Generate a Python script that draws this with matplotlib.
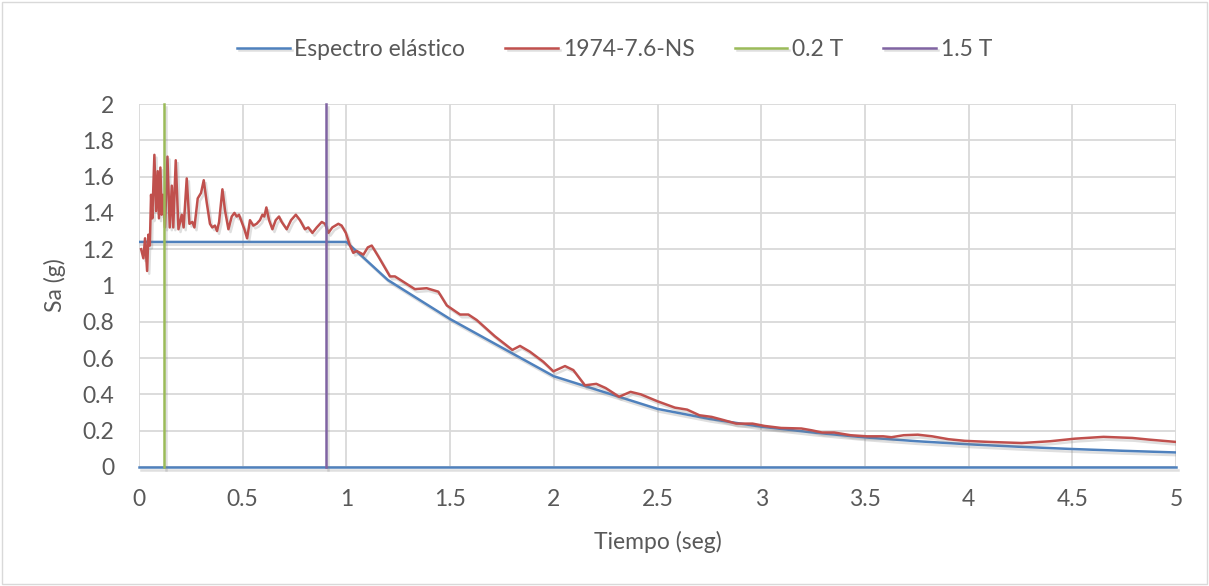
import matplotlib
matplotlib.use("Agg")
import matplotlib.pyplot as plt
import matplotlib.patheffects as pe
from matplotlib.patches import Rectangle
from matplotlib.ticker import FuncFormatter

plt.rcParams['font.family'] = ['Lato', 'DejaVu Sans']

# elastic design spectrum (blue)
espectro_t = [0.0, 1.0, 1.2, 1.5, 2.0, 2.5, 2.75, 3.0, 3.25, 3.5, 3.75, 4.0, 4.25, 4.5, 4.75, 5.0]
espectro_sa = [1.24, 1.24, 1.03, 0.815, 0.5, 0.32, 0.265, 0.222, 0.19, 0.163, 0.142, 0.125, 0.111, 0.099, 0.089, 0.08]
base_t = [0.0, 5.0]
base_sa = [0.0, 0.0]

# record 1974-7.6-NS (red)
registro_t = [0.01, 0.021, 0.029, 0.039, 0.045, 0.052, 0.058, 0.064, 0.074, 0.082,
              0.09, 0.096, 0.103, 0.109, 0.116, 0.125, 0.137, 0.148, 0.158, 0.165,
              0.177, 0.19, 0.206, 0.215, 0.23, 0.243, 0.257, 0.267, 0.283, 0.299,
              0.312, 0.326, 0.342, 0.353, 0.366, 0.376, 0.386, 0.402, 0.415, 0.431,
              0.447, 0.46, 0.471, 0.482, 0.495, 0.508, 0.521, 0.535, 0.551, 0.567,
              0.583, 0.595, 0.604, 0.614, 0.627, 0.643, 0.659, 0.675, 0.688, 0.712,
              0.733, 0.756, 0.776, 0.80, 0.816, 0.836, 0.857, 0.881, 0.897, 0.913,
              0.932, 0.961, 0.977, 0.997, 1.017, 1.033, 1.05, 1.066, 1.082, 1.103,
              1.122, 1.154, 1.21, 1.234, 1.33, 1.387, 1.443, 1.484, 1.548, 1.588,
              1.628, 1.692, 1.716, 1.80, 1.837, 1.885, 1.949, 1.998, 2.054, 2.094,
              2.15, 2.205, 2.25, 2.315, 2.37, 2.42, 2.50, 2.584, 2.643, 2.702,
              2.761, 2.82, 2.879, 2.958, 3.017, 3.096, 3.194, 3.244, 3.293, 3.352,
              3.431, 3.509, 3.588, 3.628, 3.687, 3.755, 3.824, 3.903, 3.982, 4.1,
              4.257, 4.395, 4.513, 4.651, 4.789, 4.868, 5.0]
registro_sa = [1.20, 1.15, 1.26, 1.08, 1.28, 1.22, 1.50, 1.37, 1.72, 1.41,
               1.63, 1.37, 1.65, 1.39, 1.50, 1.32, 1.71, 1.32, 1.55, 1.32,
               1.69, 1.31, 1.39, 1.32, 1.59, 1.34, 1.35, 1.32, 1.48, 1.51,
               1.58, 1.46, 1.34, 1.32, 1.33, 1.30, 1.35, 1.53, 1.41, 1.31,
               1.38, 1.40, 1.38, 1.39, 1.35, 1.31, 1.26, 1.36, 1.33, 1.34,
               1.36, 1.39, 1.38, 1.43, 1.36, 1.31, 1.36, 1.38, 1.35, 1.31,
               1.36, 1.39, 1.36, 1.31, 1.32, 1.29, 1.32, 1.35, 1.34, 1.29,
               1.32, 1.34, 1.33, 1.29, 1.22, 1.18, 1.19, 1.18, 1.17, 1.21,
               1.22, 1.16, 1.05, 1.05, 0.98, 0.985, 0.966, 0.89, 0.84, 0.84,
               0.81, 0.745, 0.72, 0.645, 0.667, 0.635, 0.58, 0.527, 0.556, 0.534,
               0.45, 0.458, 0.435, 0.387, 0.414, 0.40, 0.362, 0.327, 0.316, 0.285,
               0.276, 0.258, 0.239, 0.239, 0.226, 0.215, 0.212, 0.202, 0.19, 0.19,
               0.175, 0.169, 0.169, 0.164, 0.175, 0.178, 0.169, 0.153, 0.144, 0.138,
               0.132, 0.142, 0.156, 0.166, 0.16, 0.151, 0.138]

# period markers
t02_x = [0.12, 0.12]
t02_y = [0.0, 2.0]
t15_x = [0.9, 0.9]
t15_y = [0.0, 2.0]

xticks = [0, 0.5, 1, 1.5, 2, 2.5, 3, 3.5, 4, 4.5, 5]
yticks = [0, 0.2, 0.4, 0.6, 0.8, 1, 1.2, 1.4, 1.6, 1.8, 2]

azul = '#4f81bd'
rojo = '#c0504d'
verde = '#9bbb59'
morado = '#8064a2'
gris = '#595959'
fs = 16.5

fig = plt.figure(figsize=(12.09, 5.86), dpi=100)
ax = fig.add_axes([0.115, 0.2031, 0.8577, 0.6194])

sombra = [pe.SimpleLineShadow(offset=(1.5, -2), shadow_color='gray', alpha=0.25), pe.Normal()]

ax.plot(espectro_t, espectro_sa, color=azul, lw=1.8, label='Espectro elástico', path_effects=sombra, zorder=3)
ax.plot(base_t, base_sa, color=azul, lw=1.8, path_effects=sombra, zorder=3, clip_on=False)
ax.plot(registro_t, registro_sa, color=rojo, lw=1.8, label='1974-7.6-NS', path_effects=sombra, zorder=4)
ax.plot(t02_x, t02_y, color=verde, lw=1.8, label='0.2 T', path_effects=sombra, zorder=5, clip_on=False)
ax.plot(t15_x, t15_y, color=morado, lw=1.8, label='1.5 T', path_effects=sombra, zorder=5, clip_on=False)

ax.set_xlim(0, 5)
ax.set_ylim(0, 2)
ax.set_xticks(xticks)
ax.set_yticks(yticks)
fmt = FuncFormatter(lambda v, p: ('%g' % round(v, 2)))
ax.xaxis.set_major_formatter(fmt)
ax.yaxis.set_major_formatter(fmt)
ax.grid(True, color='#d9d9d9', lw=1.3)
ax.set_axisbelow(True)
for s in ax.spines.values():
    s.set_visible(False)
ax.tick_params(length=0, labelsize=fs, colors=gris)
ax.tick_params(axis='x', pad=16)
ax.tick_params(axis='y', pad=18)

ax.set_xlabel('Tiempo (seg)', fontsize=fs, color=gris, va='center')
ax.xaxis.set_label_coords(0.5, -0.207)
ax.set_ylabel('Sa (g)', fontsize=fs, color=gris, va='center')
ax.yaxis.set_label_coords(-0.081, 0.5)

ax.legend(loc='center', bbox_to_anchor=(0.4585, 1.151), ncol=4, frameon=False,
          fontsize=fs, labelcolor=gris, handlelength=2.3, handletextpad=0.2,
          columnspacing=1.75)

fig.patches.append(Rectangle((0.002, 0.003), 0.996, 0.994, transform=fig.transFigure,
                             fill=False, edgecolor='#d9d9d9', lw=1))

fig.savefig('out.png', dpi=100)
